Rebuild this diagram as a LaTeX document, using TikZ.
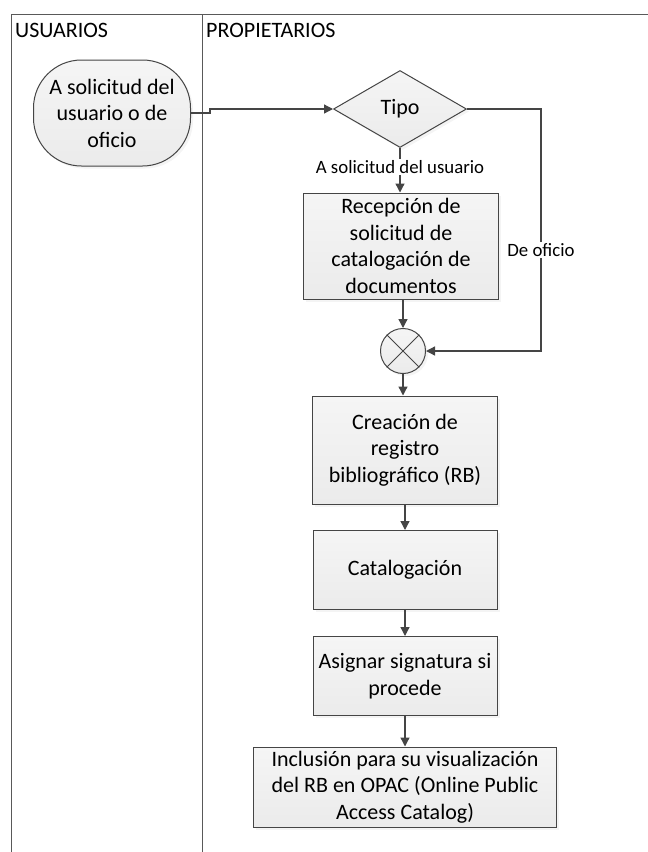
\documentclass[tikz,border=0pt]{standalone}
\usepackage{fontspec}
\setmainfont{Carlito}
\usepackage{xcolor}
\usetikzlibrary{arrows.meta, shapes.geometric, shadows, positioning}
\definecolor{linegray}{HTML}{454545}
\definecolor{boxgray}{HTML}{EBEBEB}
\tikzset{process/.style={draw=linegray, line width=1pt, top color=white!50!boxgray,
        bottom color=boxgray, align=center, inner sep=2pt,
        font=\fontsize{22}{26.5}\selectfont,
        drop shadow={shadow xshift=2.5pt, shadow yshift=-2.5pt, opacity=0.15, fill=gray!60}},
    decision/.style={process, diamond, aspect=1.73, inner sep=0pt},
    terminal/.style={process, rounded corners=48pt},
    merge/.style={process, circle, inner sep=0pt, minimum size=45pt},
    flow/.style={draw=linegray, line width=1.3pt, -{Triangle[length=9pt, width=9pt]}},
    branch/.style={fill=white, inner sep=1.5pt, font=\fontsize{18.8}{22}\selectfont},
    lane/.style={draw=gray!70!black, line width=0.9pt},
    lanetitle/.style={anchor=base west, inner sep=0pt, font=\fontsize{22}{26}\selectfont}}

\begin{document}
\begin{tikzpicture}[x=1pt, y=-1pt]
    \useasboundingbox (0,0) rectangle (648,852);

    % Swimlanes
    \draw[lane] (11,852) -- (11,14) -- (648,14);
    \draw[lane] (202,14) -- (202,852);
    \node[lanetitle] (usuarios) at (15,37) {USUARIOS};
    \node[lanetitle] (propietarios) at (206,37) {PROPIETARIOS};

    % Nodes
    \node[terminal, minimum width=157pt, minimum height=106pt] (inicio) at (112,113)
        {A solicitud del\\usuario o de\\oficio};
    \node[decision, minimum width=133pt, minimum height=77pt] (tipo) at (400,109) {Tipo};
    \node[process, minimum width=195pt, minimum height=106pt] (recepcion) at (401,246)
        {Recepción de\\solicitud de\\catalogación de\\documentos};
    \node[merge] (union) at (403,351) {};
    \draw[linegray, line width=0.8pt] (union.45) -- (union.225) (union.135) -- (union.315);
    \node[process, minimum width=185pt, minimum height=108pt] (creacion) at (405,450)
        {Creación de\\registro\\bibliográfico (RB)};
    \node[process, minimum width=184pt, minimum height=79pt] (catalogacion) at (405,570)
        {Catalogación};
    \node[process, minimum width=184pt, minimum height=79pt] (signatura) at (405,676)
        {Asignar signatura si\\procede};
    \node[process, minimum width=303pt, minimum height=80pt] (inclusion) at (405,787)
        {Inclusión para su visualización\\del RB en OPAC (Online Public\\Access Catalog)};

    % Connectors
    \coordinate (codo) at (541,109);
    \draw[flow] (inicio.east) -- ++(19,0) |- (tipo.west);
    \draw[flow] (tipo.south) -- node[branch, pos=0.42] (usuario) {A solicitud del usuario}
        (tipo.south |- recepcion.north);
    \draw[flow] (tipo.east) -- (codo) |- node[branch, pos=0.291] (oficio) {De oficio}
        (union.east);
    \draw[flow] (union.north |- recepcion.south) -- (union.north);
    \draw[flow] (union.south) -- (union.south |- creacion.north);
    \draw[flow] (creacion.south) -- (catalogacion.north);
    \draw[flow] (catalogacion.south) -- (signatura.north);
    \draw[flow] (signatura.south) -- (inclusion.north);
\end{tikzpicture}
\end{document}
